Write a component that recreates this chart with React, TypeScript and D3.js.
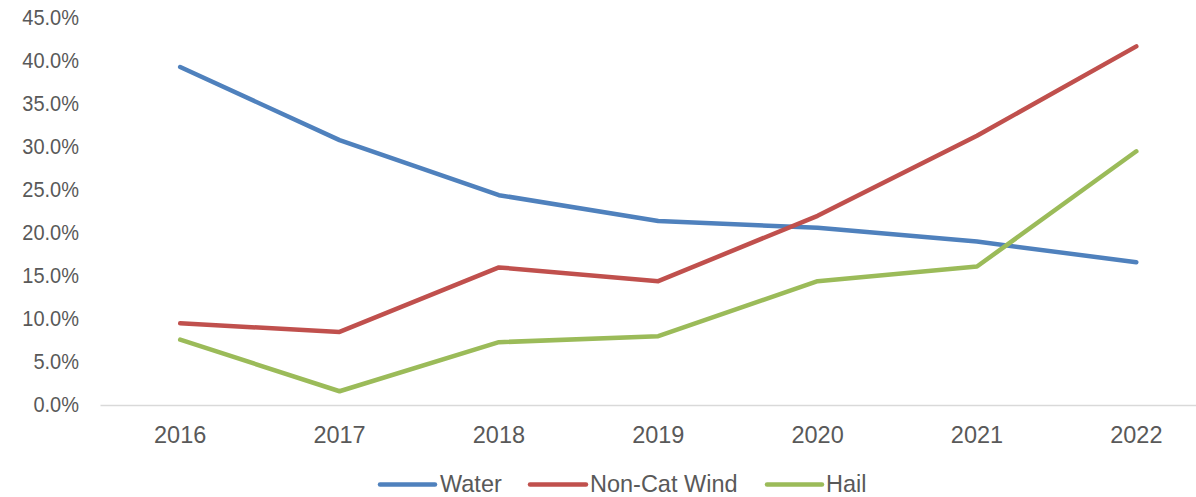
import React from "react";
import * as d3 from "d3";

const years = ["2016", "2017", "2018", "2019", "2020", "2021", "2022"];
const water = [39.3, 30.8, 24.4, 21.4, 20.6, 19.0, 16.6];
const nonCatWind = [9.5, 8.5, 16.0, 14.4, 22.0, 31.3, 41.7];
const hail = [7.6, 1.6, 7.3, 8.0, 14.4, 16.1, 29.5];
const yTicks = [0, 5, 10, 15, 20, 25, 30, 35, 40, 45];

const seriesList = [
  { name: "Water", values: water, color: "#4F81BD" },
  { name: "Non-Cat Wind", values: nonCatWind, color: "#C0504D" },
  { name: "Hail", values: hail, color: "#9BBB59" },
];

export default function App() {
  const W = 1196, H = 497;
  const x = d3.scaleBand<string>().domain(years).range([100.5, 1216]);
  const y = d3.scaleLinear().domain([0, 45]).range([405, 18]);
  const line = d3.line<number>()
    .x((_, i) => (x(years[i]) as number) + x.bandwidth() / 2)
    .y((d) => y(d));
  const font = "'Liberation Sans', Arial, sans-serif";
  const legendItems = [
    { x0: 380, x1: 435, tx: 440 },
    { x0: 530, x1: 586, tx: 590 },
    { x0: 767, x1: 822, tx: 826 },
  ];
  return (
    <svg width={W} height={H} style={{ position: "absolute", left: 0, top: 0, display: "block" }} fontFamily={font}>
      <rect width={W} height={H} fill="#fff" />
      <line x1={100.5} x2={1216} y1={y(0) + 0.5} y2={y(0) + 0.5} stroke="#D9D9D9" strokeWidth={1.5} />
      {yTicks.map((t) => (
        <text key={t} transform={`translate(79,${y(t)}) scale(1,1.06)`} dy="0.35em" textAnchor="end" fontSize={20} fill="#595959">
          {t.toFixed(1) + "%"}
        </text>
      ))}
      {years.map((yr) => (
        <text key={yr} transform={`translate(${(x(yr) as number) + x.bandwidth() / 2},434) scale(1,1.05)`} dy="0.35em" textAnchor="middle" fontSize={23.5} fill="#595959">
          {yr}
        </text>
      ))}
      {seriesList.map((s) => (
        <path key={s.name} d={line(s.values) || ""} fill="none" stroke={s.color} strokeWidth={4.5} strokeLinecap="round" strokeLinejoin="round" />
      ))}
      {seriesList.map((s, i) => (
        <g key={s.name}>
          <line x1={legendItems[i].x0} x2={legendItems[i].x1} y1={484.5} y2={484.5} stroke={s.color} strokeWidth={4.5} strokeLinecap="round" />
          <text transform={`translate(${legendItems[i].tx},483.5) scale(1,1.03)`} dy="0.35em" fontSize={23.5} fill="#595959">{s.name}</text>
        </g>
      ))}
    </svg>
  );
}
